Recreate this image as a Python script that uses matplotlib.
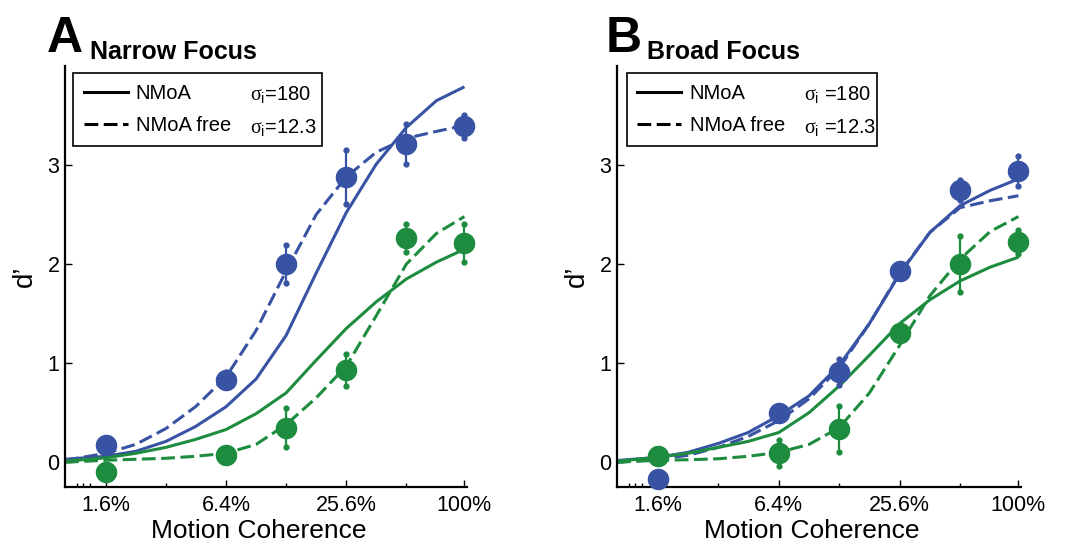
import numpy as np
import matplotlib.pyplot as plt
from matplotlib.lines import Line2D
from matplotlib.ticker import FixedLocator, NullFormatter

plt.rcParams['font.family'] = ['Liberation Sans', 'DejaVu Sans']
plt.rcParams['mathtext.fontset'] = 'custom'
plt.rcParams['mathtext.it'] = 'Liberation Serif'
plt.rcParams['mathtext.rm'] = 'Liberation Sans'

BLUE = '#3953a4'
GREEN = '#1e8c3f'

# coherence levels (%) of the measured points and of the read-off fit curves
coherence = [1.6, 6.4, 12.8, 25.6, 51.2, 100]
fit_coherence = [1.0, 1.6, 2.26, 3.2, 4.5, 6.4, 9.05, 12.8, 18.1, 25.6, 36.2, 51.2, 72.4, 100]
xtick_vals = [1.6, 6.4, 25.6, 100]
xtick_labels = ['1.6%', '6.4%', '25.6%', '100%']
minor_vals = [1.15, 1.23, 1.33, 3.2, 12.8, 51.2]

# A - narrow focus
narrow_blue = [0.17, 0.835, 2.0, 2.88, 3.21, 3.39]
narrow_blue_err = [0.0, 0.08, 0.19, 0.27, 0.2, 0.12]
narrow_green = [-0.10, 0.07, 0.35, 0.93, 2.26, 2.21]
narrow_green_err = [0.0, 0.0, 0.2, 0.165, 0.14, 0.19]
narrow_blue_nmoa = [0.03, 0.06, 0.11, 0.21, 0.36, 0.56, 0.84, 1.28, 1.91, 2.52, 3.01, 3.38, 3.65, 3.79]
narrow_blue_free = [0.02, 0.09, 0.18, 0.34, 0.56, 0.86, 1.33, 1.93, 2.50, 2.88, 3.13, 3.27, 3.34, 3.40]
narrow_green_nmoa = [0.01, 0.045, 0.09, 0.15, 0.23, 0.33, 0.49, 0.70, 1.03, 1.35, 1.62, 1.85, 2.02, 2.15]
narrow_green_free = [0.0, 0.02, 0.03, 0.04, 0.06, 0.09, 0.18, 0.38, 0.65, 0.97, 1.48, 2.00, 2.31, 2.48]

# B - broad focus
broad_blue = [-0.17, 0.495, 0.91, 1.93, 2.745, 2.94]
broad_blue_err = [0.0, 0.05, 0.13, 0.07, 0.1, 0.15]
broad_green = [0.058, 0.09, 0.337, 1.30, 2.0, 2.22]
broad_green_err = [0.0, 0.13, 0.235, 0.06, 0.28, 0.12]
broad_blue_nmoa = [0.017, 0.05, 0.10, 0.19, 0.30, 0.47, 0.67, 0.98, 1.40, 1.90, 2.32, 2.59, 2.745, 2.86]
broad_blue_free = [0.0, 0.03, 0.07, 0.15, 0.26, 0.42, 0.64, 0.95, 1.40, 1.91, 2.32, 2.57, 2.64, 2.69]
broad_green_nmoa = [0.01, 0.05, 0.09, 0.15, 0.21, 0.30, 0.50, 0.77, 1.08, 1.40, 1.64, 1.83, 1.97, 2.07]
broad_green_free = [0.0, 0.02, 0.025, 0.035, 0.06, 0.10, 0.18, 0.35, 0.70, 1.18, 1.68, 2.05, 2.33, 2.48]

DASH = (0, (4.5, 1.8))


def draw_panel(ax, pts, curves, sigma_x, sigma_labels):
    for ys, style, color in curves:
        ax.plot(fit_coherence, ys, color=color, lw=2.2, linestyle=style,
                solid_capstyle='butt', zorder=2)
    for ys, err, color in pts:
        eb = ax.errorbar(coherence, ys, yerr=err, fmt='o', color=color, ms=14.5,
                         mec=color, elinewidth=1.6, capsize=2, zorder=3)
        for cl in eb[1]:
            cl.set_marker('o')
            cl.set_markersize(3.5)
            cl.set_clip_on(False)
        eb[0].set_clip_on(False)

    ax.set_xscale('log')
    ax.set_xlim(1.0, 103)
    ax.set_ylim(-0.25, 4.0)
    ax.set_xticks(xtick_vals)
    ax.set_xticklabels(xtick_labels)
    ax.xaxis.set_minor_locator(FixedLocator(minor_vals))
    ax.xaxis.set_minor_formatter(NullFormatter())
    ax.set_yticks([0, 1, 2, 3])
    ax.tick_params(axis='both', which='major', direction='in', length=5, width=1,
                   labelsize=15.5, pad=6)
    ax.tick_params(axis='y', pad=4)
    ax.tick_params(axis='x', which='minor', direction='in', length=3, width=1)
    for s in ['top', 'right']:
        ax.spines[s].set_visible(False)
    for s in ['left', 'bottom']:
        ax.spines[s].set_linewidth(1.6)

    ax.set_xlabel('Motion Coherence', fontsize=19)
    ax.xaxis.set_label_coords(0.482, -0.075)
    ax.set_ylabel('d\u2019', fontsize=20)
    ax.yaxis.set_label_coords(-0.068, 0.5)

    handles = [Line2D([], [], color='black', lw=2.2),
               Line2D([], [], color='black', lw=2.2, linestyle=DASH)]
    leg = ax.legend(handles, ['NMoA', 'NMoA free'], loc='upper left',
                    bbox_to_anchor=(sigma_x[0], 0.983, 0.619, 0.0), mode='expand',
                    fontsize=14.5, handlelength=2.2, handletextpad=0.4,
                    borderpad=0.52, labelspacing=0.67, borderaxespad=0,
                    fancybox=False, framealpha=1, edgecolor='black')
    leg.get_frame().set_linewidth(1.2)
    ax.text(sigma_x[1], 0.919, sigma_labels[0], transform=ax.transAxes,
            fontsize=14.5, va='baseline', ha='left', zorder=10)
    ax.text(sigma_x[1], 0.841, sigma_labels[1], transform=ax.transAxes,
            fontsize=14.5, va='baseline', ha='left', zorder=10)


fig = plt.figure(figsize=(10.88, 5.44), dpi=100)
axA = fig.add_axes([65 / 1088, 57 / 544, 402 / 1088, 421 / 544])
axB = fig.add_axes([617 / 1088, 57 / 544, 404 / 1088, 421 / 544])

draw_panel(axA,
           [(narrow_blue, narrow_blue_err, BLUE), (narrow_green, narrow_green_err, GREEN)],
           [(narrow_blue_nmoa, '-', BLUE), (narrow_blue_free, DASH, BLUE),
            (narrow_green_nmoa, '-', GREEN), (narrow_green_free, DASH, GREEN)],
           (0.02, 0.46), [r'$\sigma_{\mathrm{i}}$=180', r'$\sigma_{\mathrm{i}}$=12.3'])
draw_panel(axB,
           [(broad_blue, broad_blue_err, BLUE), (broad_green, broad_green_err, GREEN)],
           [(broad_blue_nmoa, '-', BLUE), (broad_blue_free, DASH, BLUE),
            (broad_green_nmoa, '-', GREEN), (broad_green_free, DASH, GREEN)],
           (0.024, 0.463), [r'$\sigma_{\mathrm{i}}$ =180', r'$\sigma_{\mathrm{i}}$ =12.3'])

fig.text(47 / 1088, 1 - 52 / 544, 'A', fontsize=36, fontweight='bold', va='baseline')
fig.text(90 / 1088, 1 - 59 / 544, 'Narrow Focus', fontsize=18, fontweight='bold', va='baseline')
fig.text(606 / 1088, 1 - 52 / 544, 'B', fontsize=36, fontweight='bold', va='baseline')
fig.text(647 / 1088, 1 - 59 / 544, 'Broad Focus', fontsize=18, fontweight='bold', va='baseline')

fig.savefig('out.png', dpi=100)
